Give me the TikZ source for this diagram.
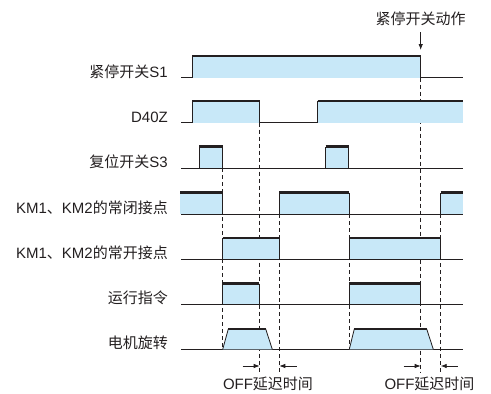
\documentclass[tikz,border=0pt]{standalone}
\usepackage{fontspec}
\setmainfont{Liberation Sans}
\newfontfamily\cjk{Noto Sans CJK SC}
\usetikzlibrary{arrows.meta}
\newcommand\zh[1]{{\cjk #1}}
\definecolor{pulseblue}{HTML}{C8E8F8}
\definecolor{ink}{HTML}{231F20}
% full pulse: x1 x2 base top
\newcommand\tpulse[4]{%
  \fill[pulseblue] (#1,#3) rectangle (#2,#4);
  \draw[edge] (#1,#3) -- (#1,#4);
  \draw[edge] (#2,#4) -- (#2,#3);
  \draw[bar] (#1,#4) -- (#2,#4);}
% pulse cut at the right border (no falling edge)
\newcommand\tpulseR[4]{%
  \fill[pulseblue] (#1,#3) rectangle (#2,#4);
  \draw[edge] (#1,#3) -- (#1,#4);
  \draw[bar] (#1,#4) -- (#2,#4);}
% pulse cut at the left border (no rising edge)
\newcommand\tpulseL[4]{%
  \fill[pulseblue] (#1,#3) rectangle (#2,#4);
  \draw[edge] (#2,#4) -- (#2,#3);
  \draw[bar] (#1,#4) -- (#2,#4);}
\newcommand\tmotor[5]{%
  \fill[pulseblue] (#1,#5) -- (#2,#4) -- (#3,#4) -- (#3+6.6,#5) -- cycle;
  \draw[edge] (#1,#5) -- (#2,#4);
  \draw[edge] (#3+6.6,#5) -- (#3,#4);
  \draw[bar] (#2,#4) -- (#3,#4);}
\begin{document}
\begin{tikzpicture}[x=1pt,y=-1pt,
  font=\fontsize{15}{17}\selectfont,
  axis/.style={draw=ink,line width=1pt},
  edge/.style={draw=ink,line width=0.8pt},
  bar/.style={draw=ink,line width=2.5pt},
  dline/.style={draw=ink,line width=0.8pt,dash pattern=on 4pt off 3pt},
  lbl/.style={anchor=base east,inner sep=0pt,text=ink},
  tip/.style={-{Latex[length=6pt,width=4.5pt]},draw=ink,line width=0.8pt}]
\useasboundingbox (0,0) rectangle (491,394);
% dashed guide lines
\draw[dline] (420.7,77.7) -- (420.7,373);
\draw[dline] (259.7,122.7) -- (259.7,373);
\draw[dline] (222.7,168.3) -- (222.7,349.3);
\draw[dline] (279.3,214.3) -- (279.3,373);
\draw[dline] (349.3,214.3) -- (349.3,349.3);
\draw[dline] (440.7,214.3) -- (440.7,373);
% axes
\foreach \y in {77.7,122.7,168.3,214.3,259.3,304.3,349.3}
  \draw[axis] (181,\y) -- (463,\y);
% labels
\node[lbl] (l1) at (168,77) {\zh{紧停开关}S1};
\node[lbl] (l2) at (168,122.5) {D40Z};
\node[lbl] (l3) at (168,167.8) {\zh{复位开关}S3};
\node[lbl] (l4) at (168,213.8) {KM1\zh{、}KM2\zh{的常闭接点}};
\node[lbl] (l5) at (168,258.8) {KM1\zh{、}KM2\zh{的常开接点}};
\node[lbl] (l6) at (168,303.8) {\zh{运行指令}};
\node[lbl] (l7) at (168,348.8) {\zh{电机旋转}};
% S1
\tpulse{192}{420.7}{77.7}{56}
% D40Z
\tpulse{192}{259.7}{122.7}{101}
\tpulseR{317.7}{463}{122.7}{101}
% S3
\tpulse{199.3}{222.7}{168.3}{146.5}
\tpulse{325.7}{348.7}{168.3}{146.5}
% KM NC
\tpulseL{180}{222.7}{214.3}{192.5}
\tpulse{279.3}{349.3}{214.3}{192.5}
\tpulseR{440.7}{463}{214.3}{192.5}
% KM NO
\tpulse{222.7}{279.3}{259.3}{238}
\tpulse{349.3}{440.7}{259.3}{238}
% run command
\tpulse{222.7}{259.3}{304.3}{283.5}
\tpulse{349.3}{420.7}{304.3}{283.5}
% motor
\tmotor{222.7}{228.3}{265.7}{329}{349.3}
\tmotor{349.3}{354.3}{426.7}{329}{349.3}
% top event
\node[anchor=base,inner sep=0pt,text=ink] (ev) at (420.5,24.5) {\zh{紧停开关动作}};
\coordinate (evtip) at (420.7,50);
\draw[tip] (420.7,32) -- (evtip);
% OFF delay markers
\coordinate (a1) at (259.7,366); \coordinate (b1) at (279.3,366);
\coordinate (a2) at (420.7,366); \coordinate (b2) at (440.7,366);
\draw[tip] (242.5,366) -- (a1);
\draw[tip] (296.5,366) -- (b1);
\draw[tip] (403.5,366) -- (a2);
\draw[tip] (457.5,366) -- (b2);
\node[anchor=base,inner sep=0pt,text=ink] (d1) at (268,389.5) {OFF\zh{延迟时间}};
\node[anchor=base,inner sep=0pt,text=ink] (d2) at (429.5,389.5) {OFF\zh{延迟时间}};
\end{tikzpicture}
\end{document}
